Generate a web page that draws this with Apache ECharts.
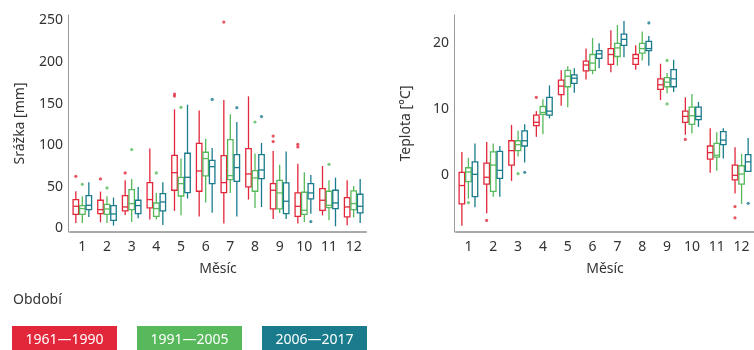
<!DOCTYPE html>
<html>
<head>
<meta charset="utf-8">
<script src="https://cdn.jsdelivr.net/npm/echarts@6/dist/echarts.min.js"></script>
<style>
  html, body { margin: 0; padding: 0; background: #fff; }
  #chart { width: 754px; height: 350px; }
</style>
</head>
<body>
<div id="chart"></div>
<script>
const months = ['1', '2', '3', '4', '5', '6', '7', '8', '9', '10', '11', '12'];
const periods = ['1961—1990', '1991—2005', '2006—2017'];
const colors = ['#e2273a', '#57b95b', '#197b8c'];

// srážky [mm]: [min, Q1, medián, Q3, max]
const srazka6190 = [
  [6.4, 16.8, 26.4, 34.5, 44.5], [7.2, 17.6, 22.4, 33.7, 44.1], [16, 20.8, 25.6, 39.3, 57.7],
  [10.4, 24.4, 34.5, 54.9, 95.8], [20.8, 45.7, 66.9, 87.7, 143], [14, 44.5, 68.9, 102.2, 141.5],
  [5.6, 42.9, 54.9, 87.3, 154.3], [34.5, 49.7, 65.3, 95.8, 158.7], [11.2, 23.2, 45.7, 53.7, 92.9],
  [5.6, 14.4, 26.4, 42.5, 77.7], [15.6, 21.6, 33.7, 47.7, 74.9], [3.6, 13.6, 25.6, 36.9, 57.7]
];
const srazka9105 = [
  [6.4, 16.8, 23.7, 27.3, 38.5], [6.4, 16.8, 23.2, 28.8, 38.5], [7.6, 22.4, 29.7, 46.5, 59.3],
  [10.4, 14.4, 23.7, 30.4, 42.5], [15.6, 38.8, 53.7, 61.3, 83.8], [30.9, 62.9, 83.8, 91.4, 107.8],
  [42.5, 58.5, 63.3, 106.6, 137], [24.4, 44.5, 60.5, 69.3, 89.8], [18.4, 23.2, 42.5, 57.7, 76.5],
  [7.6, 16.8, 21.6, 43.3, 67.3], [9.6, 24.9, 27.6, 44.5, 57.7], [12.8, 22.4, 29.7, 44.9, 50.9]
];
const srazka0617 = [
  [13.6, 22.4, 27.6, 39.3, 55.3], [3.2, 9.6, 17.2, 27.3, 36.9], [12.0, 17.6, 27.3, 33.7, 49.7],
  [4.0, 20.8, 31.6, 41.7, 55.3], [35.7, 42.9, 61.3, 90.2, 148.7], [18.8, 53.7, 74.1, 81.7, 96.5],
  [14.0, 56.5, 73.0, 88.6, 127.8], [25.6, 59.7, 70.1, 88.6, 102.6], [11.2, 17.6, 32.5, 54.5, 92.2],
  [17.6, 35.3, 42.5, 53.7, 64.1], [2.4, 23.7, 30.4, 45.7, 60.9], [6.4, 18.4, 26.4, 40.9, 59.3]
];
// odlehlé hodnoty: [měsíc, hodnota]
const srazkaOut6190 = [[1, 62.5], [2, 59.3], [3, 66.5], [5, 161.4], [5, 159], [7, 248], [9, 110.9], [9, 104.2], [10, 101], [10, 97.8]];
const srazkaOut9105 = [[1, 52.9], [2, 48.5], [3, 94.6], [4, 66.5], [5, 145.4], [8, 127.8], [11, 76.9]];
const srazkaOut0617 = [[6, 155], [7, 145], [8, 134.3], [10, 8.0]];

// teplota [°C]
const teplota6190 = [
  [-7.7, -4.4, -1.6, 0.4, 3.5], [-5.8, -1.4, -0.35, 1.8, 5.0], [-0.9, 1.5, 3.7, 5.2, 7.6],
  [5.8, 7.5, 8.0, 9.1, 9.7], [10.5, 12.2, 13.5, 14.4, 15.9], [14.5, 15.8, 16.7, 17.3, 19.2],
  [15.6, 16.8, 18.3, 19.2, 22.0], [16.0, 16.8, 17.7, 18.3, 19.7], [11.4, 13.0, 13.7, 14.6, 16.9],
  [6.1, 8.0, 8.9, 9.7, 11.8], [0.35, 2.4, 3.4, 4.4, 7.1], [-2.8, -0.75, -0.05, 1.5, 4.2]
];
const teplota9105 = [
  [-3.6, -1.0, 0.45, 1.1, 2.6], [-3.3, -2.5, 1.5, 3.5, 4.8], [2.8, 3.7, 4.6, 5.2, 6.7],
  [6.2, 9.2, 9.5, 10.4, 11.5], [10.3, 13.4, 15.0, 15.9, 16.5], [15.3, 15.9, 17.0, 18.3, 20.8],
  [16.6, 18.0, 19.3, 20.0, 22.8], [17.4, 18.5, 19.2, 20.0, 21.8], [12.4, 13.4, 14.1, 14.8, 15.5],
  [6.3, 7.7, 9.0, 10.3, 12.3], [0.65, 2.7, 3.0, 4.8, 6.5], [-4.4, -1.4, 0.15, 1.4, 3.2]
];
const teplota0617 = [
  [-4.9, -3.3, 0.1, 2.0, 4.8], [-3.3, -0.5, 0.7, 3.6, 4.4], [1.9, 4.4, 5.2, 6.7, 7.7],
  [8.6, 9.1, 9.7, 11.8, 13.6], [12.5, 13.9, 14.7, 15.2, 16.2], [16.2, 17.7, 18.4, 18.9, 20.0],
  [17.9, 19.7, 20.6, 21.4, 23.4], [16.6, 18.9, 19.2, 20.3, 21.1], [12.6, 13.4, 14.6, 16.0, 17.5],
  [7.3, 8.4, 8.9, 10.3, 11.1], [2.5, 4.6, 5.3, 6.6, 7.1], [0.45, 0.55, 2.0, 3.1, 5.6]
];
const teplotaOut6190 = [[2, -6.9], [4, 11.8], [10, 5.4], [12, -4.8], [12, -6.5]];
const teplotaOut9105 = [[1, -4.2], [3, 0.2], [9, 17.4], [9, 10.8]];
const teplotaOut0617 = [[3, 0.4], [8, 23.1], [12, -4.3]];

const srazkaTicks = [0, 50, 100, 150, 200, 250];
const teplotaTicks = [0, 10, 20];

const chart = echarts.init(document.getElementById('chart'));
const font = 'Noto Sans';
const gridW = [296, 300];
const boxW = 5.5;

// dodge of the three periods inside one month band
function dodgePx(i, bw) {
  const avail = bw * 0.8 - 2;
  const gap = avail / 3 * 0.3;
  const w = (avail - gap * 2) / 3;
  return (i - 1) * (gap + w);
}

function boxRenderer(i) {
  return function (params, api) {
    const m = api.value(0);
    const bw = api.size([1, 0])[0];
    const pMin = api.coord([m, api.value(1)]);
    const pQ1 = api.coord([m, api.value(2)]);
    const pMed = api.coord([m, api.value(3)]);
    const pQ3 = api.coord([m, api.value(4)]);
    const pMax = api.coord([m, api.value(5)]);
    const cx = pMin[0] + dodgePx(i, bw);
    const st = { stroke: colors[i], lineWidth: 1.3, fill: null };
    return {
      type: 'group',
      children: [
        { type: 'line', shape: { x1: cx, y1: pQ1[1], x2: cx, y2: pMin[1] }, style: st },
        { type: 'line', shape: { x1: cx, y1: pQ3[1], x2: cx, y2: pMax[1] }, style: st },
        { type: 'rect', shape: { x: cx - boxW / 2, y: pQ3[1], width: boxW, height: pQ1[1] - pQ3[1] },
          style: { stroke: colors[i], lineWidth: 1.3, fill: '#fff' } },
        { type: 'line', shape: { x1: cx - boxW / 2, y1: pMed[1], x2: cx + boxW / 2, y2: pMed[1] }, style: st }
      ]
    };
  };
}

function panelSeries(g, boxes, outs) {
  const s = [];
  boxes.forEach(function (d, i) {
    s.push({
      name: periods[i], type: 'custom', xAxisIndex: g, yAxisIndex: g,
      data: d.map(function (b, m) { return [m].concat(b); }),
      encode: { x: 0, y: [1, 2, 3, 4, 5] },
      renderItem: boxRenderer(i)
    });
  });
  outs.forEach(function (d, i) {
    s.push({
      name: periods[i], type: 'scatter', xAxisIndex: g, yAxisIndex: g,
      data: d.map(function (p) { return [p[0] - 1, p[1]]; }),
      symbolSize: 3.2, symbolOffset: [dodgePx(i, gridW[g] / months.length), 0],
      itemStyle: { color: colors[i] }
    });
  });
  return s;
}

const axisText = { color: '#333', fontSize: 14, fontFamily: font };

function xAx(g) {
  return {
    type: 'category', gridIndex: g, data: months,
    name: 'Měsíc', nameLocation: 'middle', nameGap: 30, nameTextStyle: axisText,
    axisLine: { onZero: false, lineStyle: { color: '#aaa', width: 2 } },
    axisTick: { show: false },
    axisLabel: Object.assign({ margin: 8 }, axisText)
  };
}
function yAx(g, name, min, max, ticks) {
  return {
    type: 'value', gridIndex: g, min: min, max: max, offset: 2,
    name: name, nameLocation: 'middle', nameGap: 41, nameTextStyle: axisText,
    axisLine: { show: true, onZero: false, lineStyle: { color: '#999', width: 1 } },
    axisTick: { show: false },
    splitLine: { show: false },
    axisLabel: Object.assign({ margin: 5, customValues: ticks }, axisText)
  };
}

const legendItems = [{
  type: 'text', left: 13, top: 293,
  style: { text: 'Období', fill: '#333', font: '14px "Noto Sans"' }
}];
periods.forEach(function (p, i) {
  legendItems.push({
    type: 'group', left: 12 + i * 125, top: 326,
    children: [
      { type: 'rect', shape: { x: 0, y: 0, width: 105, height: 24 }, style: { fill: colors[i] } },
      { type: 'text', x: 52.5, y: 14.5,
        style: { text: p, fill: '#fff', font: '14px "Noto Sans"', align: 'center', verticalAlign: 'middle' } }
    ]
  });
});

chart.setOption({
  animation: false,
  textStyle: { fontFamily: font },
  grid: [
    { left: 70, top: 15, width: gridW[0], height: 217 },
    { left: 456, top: 15, width: gridW[1], height: 217 }
  ],
  xAxis: [xAx(0), xAx(1)],
  yAxis: [
    yAx(0, 'Srážka [mm]', -4.5, 256.5, srazkaTicks),
    yAx(1, 'Teplota [°C]', -8.66, 24.3, teplotaTicks)
  ],
  series: panelSeries(0, [srazka6190, srazka9105, srazka0617], [srazkaOut6190, srazkaOut9105, srazkaOut0617])
    .concat(panelSeries(1, [teplota6190, teplota9105, teplota0617], [teplotaOut6190, teplotaOut9105, teplotaOut0617])),
  graphic: legendItems
});
</script>
</body>
</html>
